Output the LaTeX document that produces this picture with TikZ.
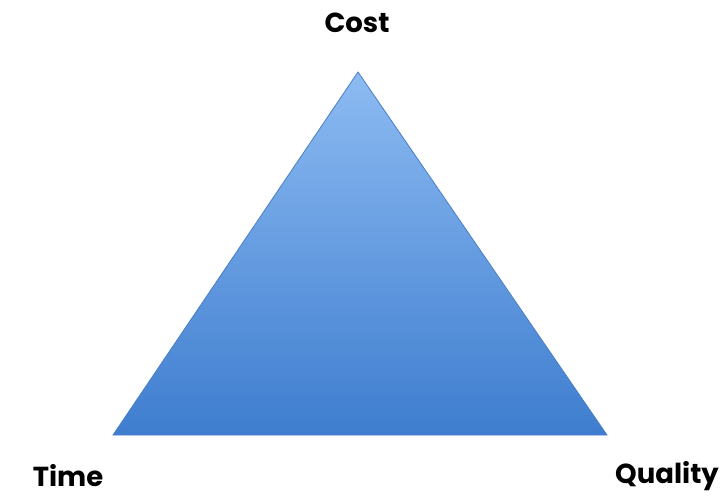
\documentclass[tikz,border=0pt]{standalone}
\usepackage{fontspec}
\setmainfont{Poppins}
\definecolor{topblue}{HTML}{8DBBF2}
\definecolor{botblue}{HTML}{3E7DCF}
\definecolor{edgeblue}{HTML}{4A7FC4}
\tikzset{lbl/.style={font=\fontsize{27.5}{32}\selectfont\bfseries, text=black, inner sep=0pt}}
\begin{document}
\begin{tikzpicture}[x=1pt,y=-1pt]
\useasboundingbox (0,0) rectangle (726,496);
\coordinate (A) at (358,72);
\coordinate (B) at (113,435);
\coordinate (C) at (607,435);
\shade[top color=topblue, bottom color=botblue, shading angle=0] (A) -- (B) -- (C) -- cycle;
\draw[edgeblue, line width=0.8pt, line join=miter] (A) -- (B) -- (C) -- cycle;
\node[lbl] (cost) at (357,23) {Cost};
\node[lbl] (time) at (68,476) {Time};
\node[lbl] (quality) at (667,476) {Quality};
\end{tikzpicture}
\end{document}
